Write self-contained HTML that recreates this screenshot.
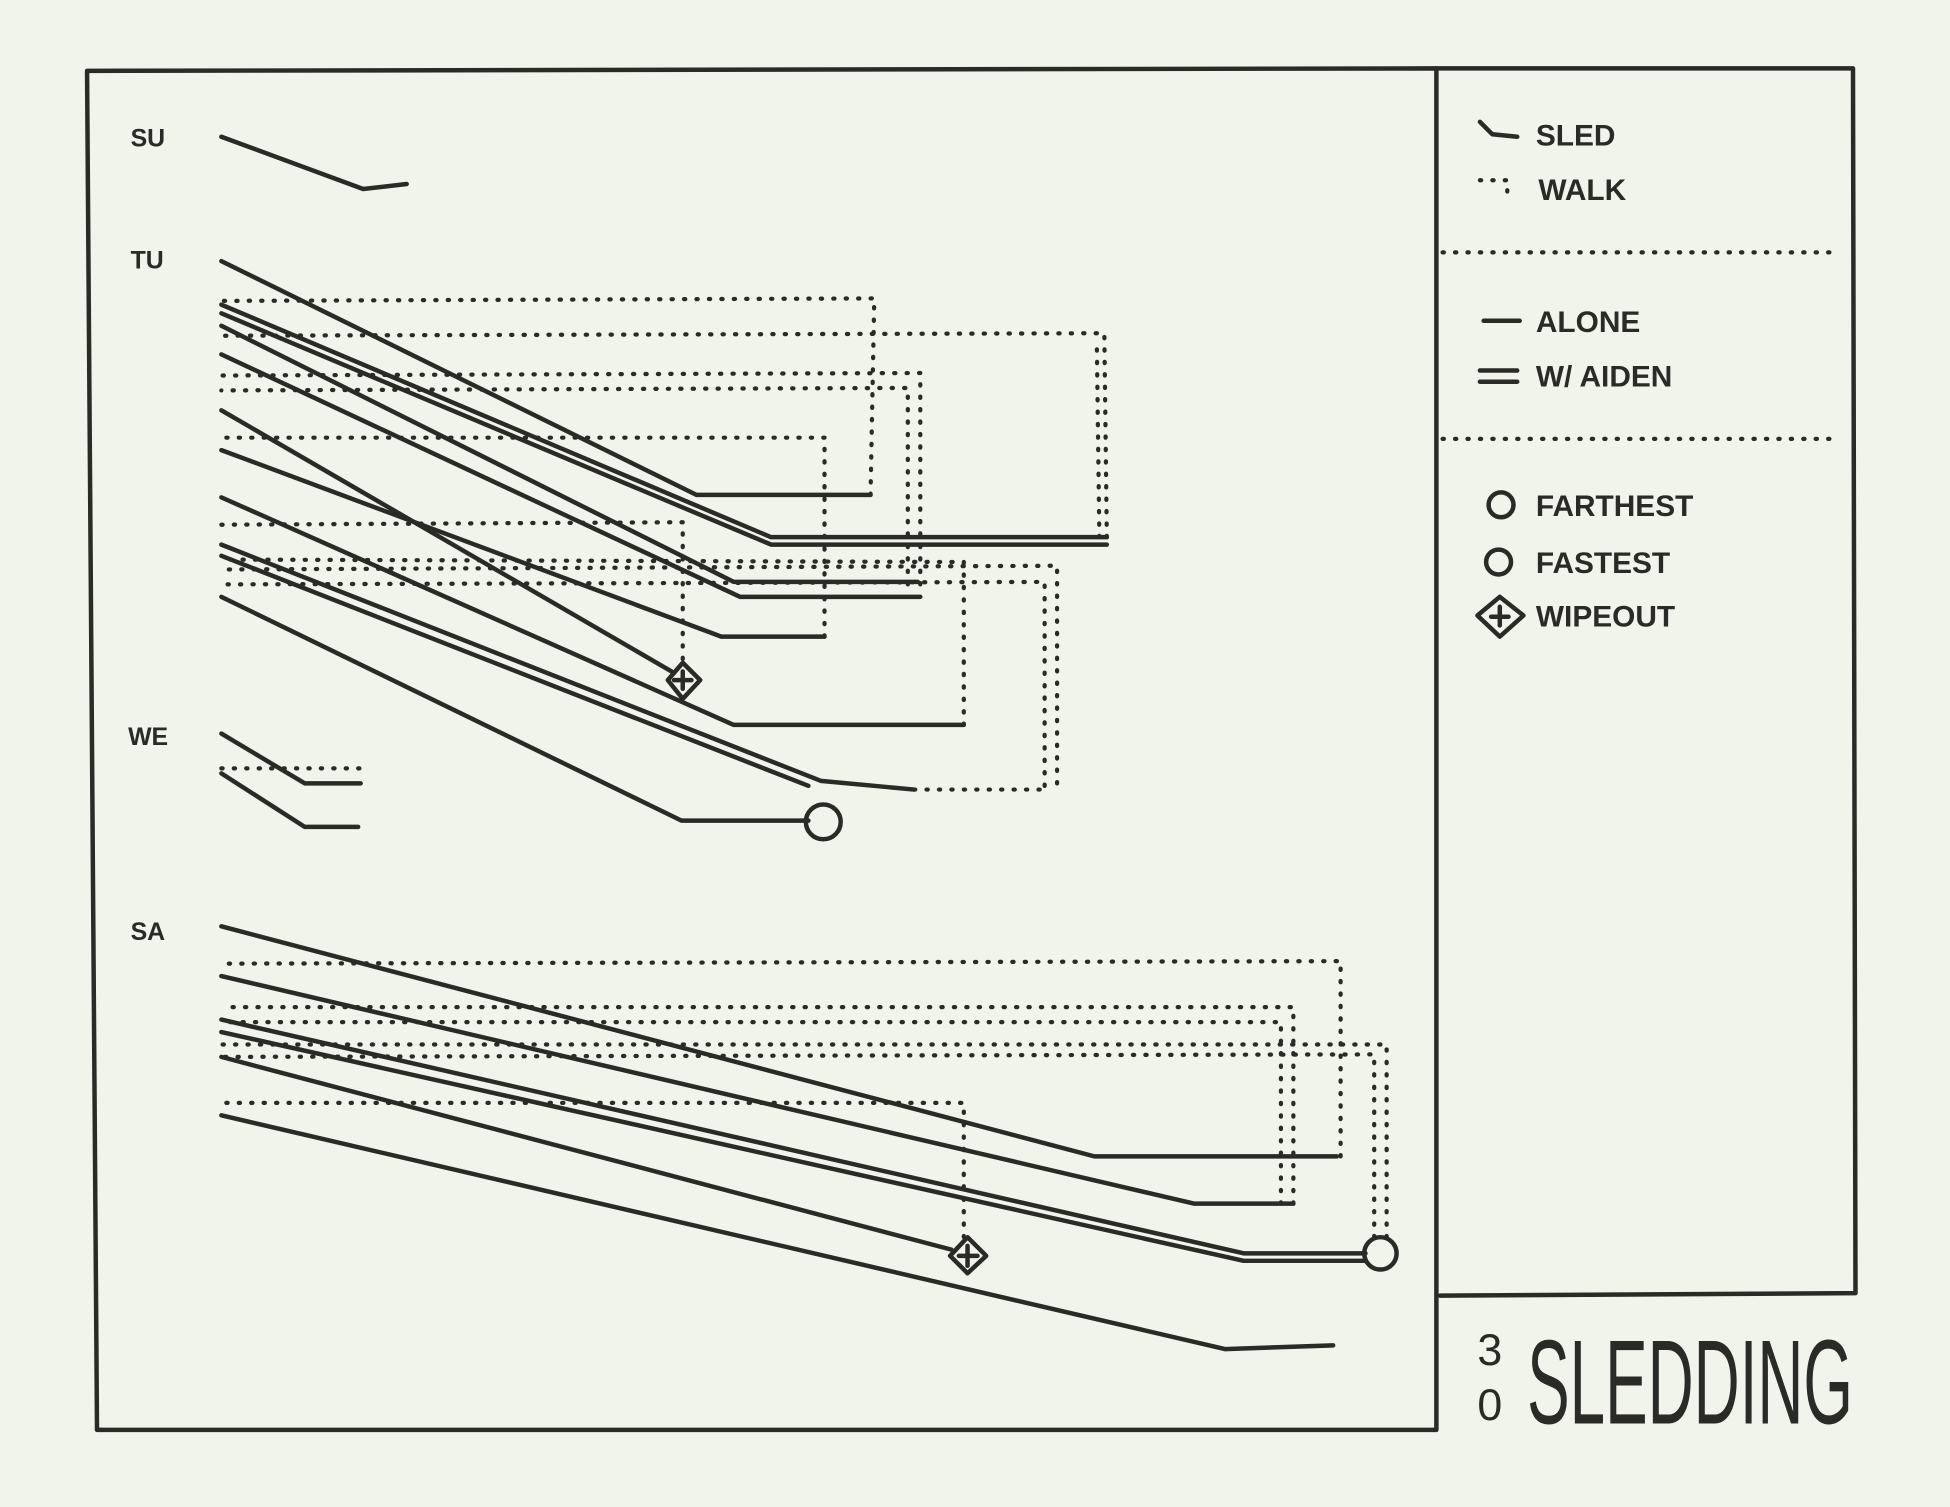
<!DOCTYPE html>
<html><head><style>
html,body{margin:0;padding:0;background:#f1f4ea;}
svg{display:block}
text{font-family:"Liberation Sans",sans-serif;font-weight:bold;fill:#2a2a26}
</style></head><body>
<svg width="1950" height="1507" viewBox="0 0 1568 1212" preserveAspectRatio="none" xmlns="http://www.w3.org/2000/svg">
<rect width="1568" height="1212" fill="#f1f4ea"/>
<g fill="none" stroke="#2a2a26" stroke-width="3.6" stroke-linecap="round" stroke-linejoin="round">
<path d="M70,57 L1155,55 L1155,1150 L78,1150 Z"/>
<path d="M1155,55 L1490,55 L1492,1040 L1158,1042"/>
<path d="M1190,98 L1200,108 L1220,110"/>
<path d="M1193,258 L1222,258"/>
<path d="M1190,298 L1220,298 M1190,307 L1220,307"/>
<circle cx="1207" cy="406" r="10"/><circle cx="1205" cy="452" r="10"/>
<path d="M1188,495 L1206,480 L1225,495 L1206,512 Z M1206,488 L1206,503 M1199,496 L1213,496"/>
<path d="M178,110 L292,152 L327,148"/>
<path d="M178,210 L560,398 L700,398"/>
<path d="M178,245 L620,432 L890,432 M178,252 L620,438 L890,438"/>
<path d="M178,262 L590,468 L738,468"/>
<path d="M178,285 L595,480 L740,480"/>
<path d="M178,330 L540,540"/>
<path d="M178,362 L580,512 L663,512"/>
<path d="M178,400 L590,583 L775,583"/>
<path d="M178,438 L660,628 L735,635 M178,447 L650,632"/>
<path d="M178,480 L548,660 L650,660"/>
<path d="M537,547 L549,533 L563,547 L549,562 Z M549,540 L549,554 M542,547 L556,547"/>
<circle cx="662" cy="661" r="14"/>
<path d="M178,590 L245,630 L290,630"/>
<path d="M178,622 L245,665 L288,665"/>
<path d="M178,745 L880,930 L1075,930"/>
<path d="M178,785 L960,968 L1040,968"/>
<path d="M178,820 L1000,1008 L1098,1008 M178,830 L1000,1014 L1098,1014"/>
<path d="M178,850 L765,1005"/>
<path d="M178,897 L985,1085 L1072,1082"/>
<path d="M764,1010 L778,995 L793,1010 L778,1024 Z M778,1002 L778,1018 M771,1010 L786,1010"/>
<circle cx="1110" cy="1008" r="13"/>
</g>
<g fill="none" stroke="#2a2a26" stroke-width="3.4" stroke-linecap="round" stroke-dasharray="1 9">
<path d="M1160,203 L1480,203 M1160,353 L1480,353"/>
<path d="M1190,145 L1212,145 L1212,160"/>
<path d="M700,398 L703,240 L178,242"/>
<path d="M890,432 L888,268 L178,270"/>
<path d="M884,432 L882,280"/>
<path d="M740,470 L740,300 L178,302"/>
<path d="M730,470 L730,312 L178,314"/>
<path d="M663,512 L663,352 L178,352"/>
<path d="M549,530 L549,420 L178,422"/>
<path d="M775,583 L775,452 L178,450"/>
<path d="M850,630 L850,455 L178,458 M840,632 L840,468 L178,470"/>
<path d="M735,635 L845,635"/>
<path d="M178,618 L290,618"/>
<path d="M1078,930 L1078,773 L178,775"/>
<path d="M1040,968 L1040,810 L178,810 M1030,968 L1030,822 L178,822"/>
<path d="M1115,995 L1115,840 L178,840 M1105,995 L1105,848 L178,850"/>
<path d="M775,995 L775,887 L178,887"/>
</g>
<text x="105" y="118" font-size="20">SU</text>
<text x="105" y="216" font-size="20">TU</text>
<text x="103" y="599" font-size="20">WE</text>
<text x="105" y="756" font-size="20">SA</text>
<text x="1235" y="117" font-size="24">SLED</text>
<text x="1237" y="161" font-size="24">WALK</text>
<text x="1235" y="267" font-size="24">ALONE</text>
<text x="1235" y="311" font-size="24">W/ AIDEN</text>
<text x="1235" y="415" font-size="24">FARTHEST</text>
<text x="1235" y="461" font-size="24">FASTEST</text>
<text x="1235" y="504" font-size="24">WIPEOUT</text>
<text x="1188" y="1098" font-size="36" style="font-weight:normal">3</text>
<text x="1188" y="1142" font-size="36" style="font-weight:normal">0</text>
<text x="1228" y="1145" font-size="96" style="font-weight:normal" textLength="262" lengthAdjust="spacingAndGlyphs">SLEDDING</text>
</svg>
</body></html>
